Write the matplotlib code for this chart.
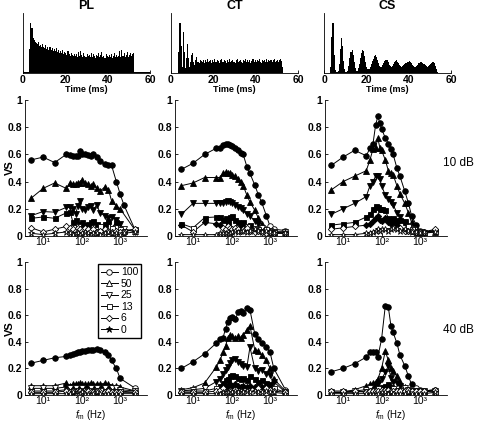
import numpy as np
import matplotlib
matplotlib.use('Agg')
import matplotlib.pyplot as plt

plt.rcParams['font.family'] = ['Liberation Sans', 'DejaVu Sans']
plt.rcParams['mathtext.fontset'] = 'custom'
plt.rcParams['mathtext.rm'] = 'Liberation Sans'
plt.rcParams['mathtext.it'] = 'Liberation Sans:italic'
plt.rcParams['mathtext.bf'] = 'Liberation Sans:bold'

# ---------------- data ----------------
COLUMNS = ['PL', 'CT', 'CS']
ROWS = ['10 dB', '40 dB']
LEVELS = ['100', '50', '25', '13', '6', '0']
XTICKS = [10, 100, 1000]
XTICKLABELS = ['10\u00b9', '10\u00b2', '10\u00b3']

# PSTHs (0.5 ms bins, 0-60 ms), arbitrary units
BIN_MS = 0.5
PSTH_PL = ([1] * 6 + [40, 84, 75, 58, 55, 52, 50] + [48, 52, 45, 47, 44, 49, 43]
           + [42, 46, 40, 43, 39, 44, 38, 41, 37, 40]
           + [36, 41, 35, 38, 34, 37, 33, 39, 32, 35]
           + [34, 30, 36, 31, 29, 33, 30, 28, 32, 29]
           + [31, 27, 35, 28, 37, 30, 27, 33, 29, 26]
           + [32, 28, 30, 26, 34, 27, 31, 29, 25, 30]
           + [28, 33, 26, 30, 35, 27, 29, 25, 31, 28]
           + [26, 30, 27, 32, 25, 29, 33, 26, 30, 27]
           + [29, 36, 27, 38, 28, 33, 26, 30, 35, 27]
           + [30, 34, 28, 32, 33] + [2] * 15)
PSTH_CT = ([0] * 7
           + [35, 84, 45, 10, 68, 35, 8, 25, 48, 25, 10, 18, 30, 33, 18, 14, 22, 26, 18, 16, 22, 20]
           + [18, 22, 17, 21, 19, 23, 18, 20, 22, 17, 21, 19, 23, 18, 22, 20, 17, 21, 24, 19,
              18, 22, 20, 17, 21, 19, 23, 18, 20, 22, 19, 17, 21, 23, 18, 20, 22, 19, 17, 21,
              20, 23, 18, 22, 19, 21, 17, 20, 23, 19, 22, 18, 21, 20, 24, 19, 17, 22, 20, 21,
              18, 23, 19, 21, 20, 22, 18, 21, 23, 19, 20, 22, 18, 21, 23, 20, 10]
           + [0] * 14)
PSTH_CS = ([0] * 6
           + [10, 60, 84, 30, 5, 1, 1, 3, 15, 40, 58, 45, 20, 6, 2, 2, 4, 12, 25, 35, 38, 30,
              18, 8, 4, 4, 8, 15, 25, 33, 39, 36, 28, 18, 10, 7, 7, 10, 15, 20, 24, 28, 30, 27,
              22, 17, 12, 10, 10, 13, 17, 20, 22, 21, 18, 14, 11, 10, 12, 15, 18, 20, 21, 19,
              16, 13, 11, 10, 11, 13, 15, 17, 18, 19, 20, 19, 17, 14, 12, 10, 10, 12, 14, 16,
              17, 18, 18, 17, 15, 13, 11, 10, 11, 13, 15, 17, 18, 18, 16, 12, 6, 2]
           + [0] * 12)
PSTHS = [PSTH_PL, PSTH_CT, PSTH_CS]

# modulation frequencies (Hz)
FM = [5, 10, 20, 40, 50, 60, 70, 80, 90, 100, 125, 150, 175, 200, 250, 300,
      400, 500, 600, 800, 1000, 1250, 2500]
N = None

PL_10 = [
    [0.56, 0.58, 0.54, 0.60, 0.595, 0.59, 0.59, 0.59, 0.625, 0.60, 0.60, 0.595, 0.585, 0.60, 0.58, 0.55, 0.53, 0.525, 0.52, 0.40, 0.31, 0.23, 0.04],
    [0.28, 0.35, 0.39, 0.35, 0.39, 0.385, 0.38, 0.39, 0.39, 0.41, 0.39, 0.38, 0.37, 0.38, 0.35, 0.33, 0.36, 0.34, 0.26, 0.22, 0.20, N, 0.04],
    [0.15, 0.18, 0.175, 0.21, 0.21, 0.20, 0.16, 0.22, 0.26, 0.20, 0.19, 0.21, 0.22, 0.19, 0.23, 0.17, 0.15, 0.13, 0.14, 0.12, 0.09, 0.05, 0.03],
    [0.13, 0.14, 0.13, 0.17, 0.18, 0.10, 0.12, 0.07, 0.09, 0.10, 0.08, 0.09, 0.10, 0.11, 0.09, 0.07, 0.09, 0.11, 0.06, 0.10, 0.05, 0.04, 0.05],
    [0.06, 0.03, 0.05, 0.07, 0.06, 0.05, 0.04, 0.06, 0.05, 0.04, 0.06, 0.05, 0.04, 0.05, 0.03, 0.04, 0.05, 0.04, 0.03, 0.04, 0.03, 0.03, 0.05],
    [0.02, 0.01, 0.02, 0.03, 0.02, 0.01, 0.02, 0.02, 0.01, 0.02, 0.03, 0.02, 0.01, 0.02, 0.02, 0.01, 0.02, 0.03, 0.02, 0.02, 0.01, 0.02, 0.03],
]
CT_10 = [
    [0.49, 0.535, 0.60, 0.645, 0.645, 0.67, 0.675, 0.675, 0.67, 0.665, 0.65, 0.63, 0.61, 0.60, 0.51, 0.46, 0.375, 0.30, 0.25, 0.15, 0.07, 0.05, 0.04],
    [0.37, 0.39, 0.43, 0.43, 0.43, 0.46, 0.47, 0.465, 0.46, 0.45, 0.44, 0.42, 0.40, 0.37, 0.30, 0.25, 0.19, 0.13, 0.09, 0.05, 0.04, 0.03, 0.03],
    [0.16, 0.24, 0.24, 0.24, 0.24, 0.245, 0.25, 0.26, 0.25, 0.24, 0.23, 0.215, 0.205, 0.19, 0.16, 0.15, 0.11, 0.09, 0.06, 0.04, 0.04, 0.03, 0.03],
    [0.09, 0.06, 0.135, 0.14, 0.14, 0.12, 0.13, 0.10, 0.14, 0.15, 0.12, 0.10, 0.08, 0.10, 0.07, 0.08, 0.06, 0.05, 0.04, 0.05, 0.03, 0.03, 0.02],
    [0.08, 0.03, 0.10, 0.09, 0.08, 0.06, 0.05, 0.07, 0.06, 0.05, 0.06, 0.05, 0.04, 0.05, 0.06, 0.04, 0.03, 0.04, 0.03, 0.02, 0.03, 0.02, 0.02],
    [0.01, 0.01, 0.01, 0.01, 0.02, 0.02, 0.02, 0.03, 0.02, 0.03, 0.04, 0.03, 0.04, 0.04, 0.03, 0.04, 0.05, 0.04, 0.03, 0.04, 0.03, 0.02, 0.02],
]
CS_10 = [
    [0.52, 0.58, 0.63, 0.59, 0.645, 0.68, 0.815, 0.88, 0.83, 0.79, 0.72, 0.68, 0.64, 0.60, 0.50, 0.44, 0.33, 0.24, 0.15, 0.08, 0.04, 0.03, 0.04],
    [0.34, 0.40, 0.44, 0.48, 0.56, 0.64, 0.65, 0.72, 0.65, 0.63, 0.56, 0.48, 0.46, 0.45, 0.37, 0.31, 0.24, 0.17, 0.10, 0.05, 0.03, 0.03, 0.03],
    [0.16, 0.20, 0.24, 0.29, 0.37, 0.40, 0.44, 0.44, 0.42, 0.37, 0.30, 0.27, 0.25, 0.23, 0.17, 0.14, 0.10, 0.07, 0.05, 0.03, 0.03, 0.02, 0.03],
    [0.08, 0.09, 0.10, 0.14, 0.16, 0.20, 0.22, 0.21, 0.20, 0.20, 0.19, 0.13, 0.12, 0.13, 0.12, 0.12, 0.10, 0.07, 0.05, 0.03, 0.03, 0.03, 0.04],
    [0.05, 0.06, 0.07, 0.08, 0.09, 0.11, 0.13, 0.15, 0.12, 0.11, 0.13, 0.10, 0.09, 0.10, 0.08, 0.06, 0.04, 0.04, 0.04, 0.03, 0.03, 0.03, 0.05],
    [0.01, 0.01, 0.01, 0.02, 0.02, 0.03, 0.04, 0.05, 0.04, 0.05, 0.05, 0.04, 0.05, 0.06, 0.05, 0.04, 0.05, 0.04, 0.03, 0.03, 0.02, 0.03, 0.03],
]
PL_40 = [
    [0.24, 0.26, 0.28, 0.29, 0.30, 0.31, 0.315, 0.32, 0.325, 0.33, 0.33, 0.335, 0.34, 0.34, 0.345, 0.34, 0.325, 0.30, 0.26, 0.20, 0.125, N, 0.05],
    [0.07, 0.07, 0.07, 0.09, 0.07, 0.08, 0.085, 0.08, 0.09, 0.08, 0.085, 0.08, 0.09, 0.08, 0.085, 0.08, 0.09, 0.08, 0.07, 0.07, 0.06, N, 0.03],
    [0.05, 0.05, 0.05, 0.06, 0.05, 0.06, 0.05, 0.06, 0.06, 0.05, 0.06, 0.06, 0.05, 0.06, 0.05, 0.06, 0.05, 0.06, 0.05, 0.05, 0.04, N, 0.03],
    [0.03, 0.03, 0.03, 0.04, 0.03, 0.04, 0.03, 0.04, 0.04, 0.03, 0.04, 0.03, 0.04, 0.03, 0.04, 0.04, 0.03, 0.04, 0.03, 0.03, 0.03, N, 0.02],
    [0.02, 0.02, 0.02, 0.03, 0.02, 0.03, 0.02, 0.02, 0.03, 0.02, 0.02, 0.03, 0.02, 0.02, 0.03, 0.02, 0.02, 0.03, 0.02, 0.02, 0.02, N, 0.02],
    [0.01, 0.01, 0.01, 0.01, 0.01, 0.02, 0.01, 0.01, 0.01, 0.02, 0.01, 0.01, 0.01, 0.01, 0.02, 0.01, 0.01, 0.01, 0.01, 0.01, 0.01, N, 0.01],
]
CT_40 = [
    [0.20, 0.25, 0.31, 0.39, 0.42, 0.43, 0.50, 0.55, 0.58, 0.585, 0.57, 0.625, 0.63, 0.62, 0.655, 0.64, 0.46, 0.42, 0.39, 0.36, 0.32, 0.20, 0.04],
    [0.04, 0.055, 0.09, 0.21, 0.26, 0.32, 0.37, 0.43, 0.45, 0.44, 0.43, 0.44, 0.43, 0.45, 0.49, 0.52, 0.34, 0.33, 0.30, 0.26, 0.20, 0.12, 0.03],
    [0.03, 0.04, 0.05, 0.10, 0.12, 0.16, 0.19, 0.21, 0.24, 0.26, 0.27, 0.25, 0.23, 0.22, 0.21, 0.36, 0.20, 0.18, 0.19, 0.16, 0.15, 0.10, 0.02],
    [0.03, 0.03, 0.03, 0.05, 0.07, 0.09, 0.11, 0.12, 0.14, 0.15, 0.14, 0.13, 0.12, 0.13, 0.11, 0.14, 0.12, 0.10, 0.11, 0.09, 0.08, 0.05, 0.02],
    [0.02, 0.02, 0.02, 0.03, 0.04, 0.05, 0.06, 0.07, 0.08, 0.07, 0.08, 0.07, 0.06, 0.07, 0.06, 0.07, 0.06, 0.05, 0.06, 0.05, 0.04, 0.03, 0.02],
    [0.01, 0.01, 0.01, 0.01, 0.01, 0.02, 0.02, 0.02, 0.03, 0.02, 0.03, 0.02, 0.03, 0.02, 0.03, 0.02, 0.03, 0.02, 0.02, 0.03, 0.02, 0.02, 0.01],
]
CS_40 = [
    [0.175, 0.20, 0.235, 0.285, 0.32, 0.325, 0.32, 0.285, N, 0.42, 0.67, 0.66, 0.52, 0.47, 0.39, 0.30, 0.22, 0.14, 0.08, 0.05, 0.04, 0.03, 0.04],
    [0.02, 0.02, 0.04, 0.07, 0.08, 0.09, 0.10, 0.12, N, 0.20, 0.33, 0.26, 0.20, 0.18, 0.14, 0.10, 0.06, 0.04, 0.03, 0.03, 0.03, 0.03, 0.03],
    [0.02, 0.02, 0.03, 0.04, 0.05, 0.06, 0.07, 0.08, N, 0.12, 0.17, 0.22, 0.13, 0.10, 0.09, 0.07, 0.05, 0.04, 0.03, 0.03, 0.03, 0.03, 0.03],
    [0.02, 0.02, 0.02, 0.03, 0.03, 0.04, 0.04, 0.05, N, 0.06, 0.07, 0.08, 0.06, 0.05, 0.04, 0.04, 0.03, 0.03, 0.03, 0.03, 0.03, 0.03, 0.02],
    [0.03, 0.03, 0.03, 0.02, 0.03, 0.03, 0.03, 0.03, N, 0.04, 0.04, 0.04, 0.03, 0.03, 0.03, 0.03, 0.03, 0.04, 0.03, 0.03, 0.03, 0.03, 0.04],
    [0.01, 0.01, 0.01, 0.01, 0.01, 0.01, 0.01, 0.01, N, 0.02, 0.02, 0.01, 0.02, 0.01, 0.01, 0.01, 0.01, 0.02, 0.01, 0.01, 0.01, 0.01, 0.02],
]
VS_DATA = [[PL_10, CT_10, CS_10], [PL_40, CT_40, CS_40]]
# points below this VS are drawn with open symbols (non-significant)
SIG_LEVEL = [0.075, 0.055]

# ---------------- style ----------------
MARKERS = ['o', '^', 'v', 's', 'D', '*']
MSIZE = [4.0, 4.0, 4.0, 3.6, 3.2, 5.0]
LW = 0.7
TICKFS = 7.5

W, H = 480, 422
fig = plt.figure(figsize=(W / 100, H / 100), dpi=100)

def rect(l, t, r, b):
    return [l / W, 1 - b / H, (r - l) / W, (b - t) / H]

top_lefts = [23, 171, 324]
for i, (name, ps) in enumerate(zip(COLUMNS, PSTHS)):
    l = top_lefts[i]
    ax = fig.add_axes(rect(l, 13, l + 127, 73))
    t = np.arange(len(ps)) * BIN_MS
    ax.bar(t, ps, width=BIN_MS, align='edge', color='k', linewidth=0)
    ax.set_xlim(0, 60)
    ax.set_ylim(0, 100)
    ax.set_xticks([0, 20, 40, 60])
    ax.set_yticks([])
    for s in ['top', 'right']:
        ax.spines[s].set_visible(False)
    for s in ['left', 'bottom']:
        ax.spines[s].set_linewidth(0.6)
    ax.tick_params(direction='in', length=2.5, width=0.6, labelsize=TICKFS, pad=1.5)
    for lab in ax.get_xticklabels():
        lab.set_fontweight('bold')
    ax.set_xlabel('Time (ms)', fontsize=6.5, fontweight='bold', labelpad=0)
    ax.set_title(name, fontsize=9, fontweight='bold', pad=3)

mid_lefts = [25, 175, 325]
row_tb = [(100, 236), (262, 395)]
for r in range(2):
    t0, b0 = row_tb[r]
    for c in range(3):
        l = mid_lefts[c]
        ax = fig.add_axes(rect(l, t0, l + 122, b0))
        handles = []
        for k, (vals, mk, ms) in enumerate(zip(VS_DATA[r][c], MARKERS, MSIZE)):
            y = np.array([np.nan if v is None else v for v in vals], dtype=float)
            x = np.array(FM, dtype=float)
            ok = ~np.isnan(y)
            x, y = x[ok], y[ok]
            ax.plot(x, y, '-', color='k', lw=LW, zorder=2)
            sig = y > SIG_LEVEL[r]
            ax.plot(x[sig], y[sig], linestyle='none', marker=mk, ms=ms,
                    mfc='k', mec='k', mew=0.6, zorder=3)
            ax.plot(x[~sig], y[~sig], linestyle='none', marker=mk, ms=ms,
                    mfc='white', mec='k', mew=0.6, zorder=3)
            h, = ax.plot([], [], '-', color='k', lw=LW, marker=mk, ms=ms,
                         mfc='white' if mk != '*' else 'k', mec='k', mew=0.6)
            handles.append(h)
        ax.set_xscale('log')
        ax.set_xlim(3.4, 5000)
        ax.set_ylim(0, 1)
        ax.set_xticks(XTICKS)
        ax.set_xticklabels(XTICKLABELS)
        ax.xaxis.set_minor_locator(matplotlib.ticker.NullLocator())
        ax.set_yticks([0, 0.2, 0.4, 0.6, 0.8, 1])
        ax.set_yticklabels(['0', '0.2', '0.4', '0.6', '0.8', '1'])
        for s in ['top', 'right']:
            ax.spines[s].set_visible(False)
        for s in ['left', 'bottom']:
            ax.spines[s].set_linewidth(0.6)
        ax.tick_params(direction='in', length=2.5, width=0.6, labelsize=TICKFS, pad=2)
        ax.tick_params(axis='x', pad=1, labelsize=7.5)
        for lab in ax.get_yticklabels():
            lab.set_fontweight('bold')
        if c == 0:
            fig.text(10 / W, 1 - ((t0 + b0) / 2) / H, 'VS', rotation=90,
                     ha='center', va='center', fontsize=8, fontweight='bold')
        if r == 1:
            fig.text((l + 66) / W, 1 - 421.5 / H, r'$\mathit{f}_{\mathrm{m}}$ (Hz)',
                     ha='center', va='bottom', fontsize=7)
        if r == 1 and c == 0:
            ax.legend(handles, LEVELS, loc='upper right', bbox_to_anchor=(0.97, 1.0),
                      fontsize=7.5, frameon=True, fancybox=False, edgecolor='k',
                      framealpha=1, borderpad=0.3, labelspacing=0.15,
                      handlelength=1.6, handletextpad=0.3, borderaxespad=0.2)
    fig.text(458 / W, 1 - [163, 330][r] / H, ROWS[r], ha='center', va='center', fontsize=8.5)

fig.savefig('out.png', dpi=100)
